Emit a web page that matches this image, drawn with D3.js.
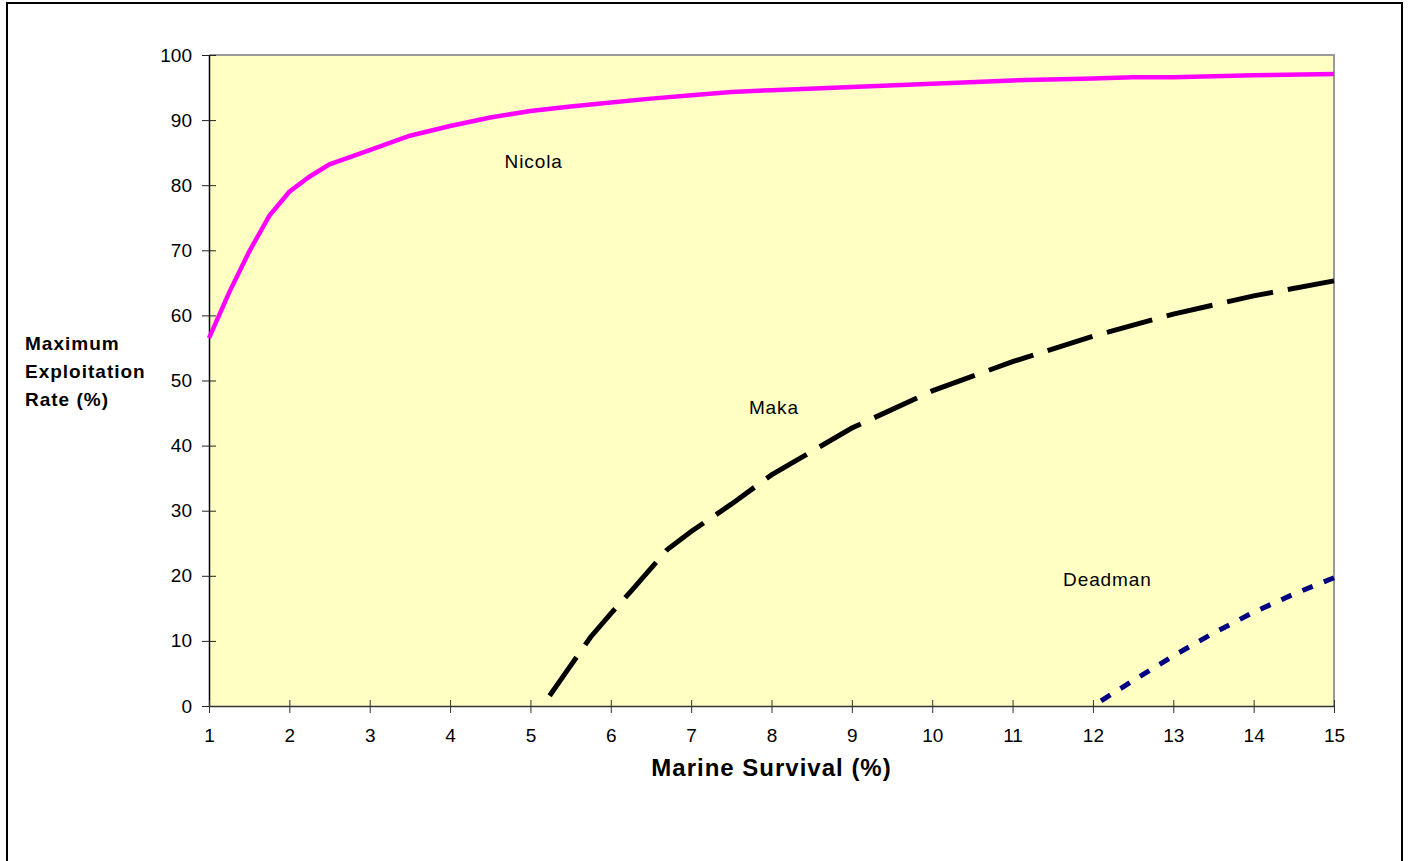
<!DOCTYPE html>
<html>
<head>
<meta charset="utf-8">
<script src="https://cdn.jsdelivr.net/npm/d3@7"></script>
<style>
  body { margin: 0; background: #fff; }
  text { font-family: Arial, "Liberation Sans", sans-serif; }
</style>
</head>
<body>
<div id="chart"></div>
<script>
// survival (%) vs max exploitation rate (%)
var nicolaX = [1, 1.25, 1.5, 1.75, 2, 2.25, 2.5, 3, 3.5, 4, 4.5, 5, 5.5, 6, 6.5, 7, 7.5, 8, 9, 10, 11, 12, 12.5, 13, 14, 15]
var nicolaY = [56.5, 63.5, 69.8, 75.3, 79, 81.3, 83.2, 85.4, 87.6, 89.1, 90.4, 91.4, 92.1, 92.7, 93.3, 93.8, 94.3, 94.6, 95.1, 95.6, 96.1, 96.4, 96.6, 96.6, 96.9, 97.1]

var makaX = [5.15, 5.5, 5.75, 6, 6.25, 6.7, 7, 7.5, 8, 9, 10, 11, 12, 13, 14, 15]
var makaY = [0, 6.2, 10.6, 14.2, 17.6, 24, 26.8, 31, 35.5, 42.7, 48.4, 52.9, 56.8, 60.2, 63, 65.3]

var deadmanX = [12, 12.5, 13, 13.5, 14, 14.5, 15]
var deadmanY = [0, 3.9, 7.7, 11.2, 14.4, 17.2, 19.7]

var xTicks = d3.range(1, 16)
var yTicks = d3.range(0, 101, 10)

var width = 1408
var height = 861

var plotLeft = 209
var plotRight = 1334
var plotTop = 55
var plotBottom = 706

var x = d3.scaleLinear().domain([1, 15]).range([plotLeft, plotRight])
var y = d3.scaleLinear().domain([0, 100]).range([plotBottom, plotTop])

var svg = d3.select("#chart")
  .append("svg")
  .attr("width", width)
  .attr("height", height)

// outer frame, bottom edge runs off the page
svg.append("rect")
  .attr("x", 7)
  .attr("y", 3)
  .attr("width", 1395)
  .attr("height", 900)
  .attr("fill", "none")
  .attr("stroke", "#000")
  .attr("stroke-width", 2)

svg.append("rect")
  .attr("x", plotLeft)
  .attr("y", plotTop)
  .attr("width", plotRight - plotLeft)
  .attr("height", plotBottom - plotTop)
  .attr("fill", "#FFFFC4")

// gray top and right edges
svg.append("path")
  .attr("d", "M" + plotLeft + "," + plotTop + "H" + plotRight + "V" + plotBottom)
  .attr("fill", "none")
  .attr("stroke", "#999")
  .attr("stroke-width", 2)

var yAxis = svg.append("g")
  .attr("transform", "translate(" + plotLeft + ",0)")
  .call(d3.axisLeft(y).tickValues(yTicks).tickSize(7).tickPadding(10).tickSizeOuter(0))
yAxis.selectAll(".tick line").attr("x1", 7).attr("stroke", "#222")
yAxis.select(".domain").attr("stroke", "#000").attr("stroke-width", 1.5)
yAxis.selectAll("text").attr("font-size", 19).attr("fill", "#000")

var xAxis = svg.append("g")
  .attr("transform", "translate(0," + plotBottom + ")")
  .call(d3.axisBottom(x).tickValues(xTicks).tickSize(7).tickPadding(16).tickSizeOuter(0))
xAxis.selectAll(".tick line").attr("y1", -6).attr("stroke", "#333")
xAxis.select(".domain").attr("stroke", "#333").attr("stroke-width", 1.5)
xAxis.selectAll("text").attr("font-size", 19).attr("fill", "#000")

function pairs(xs, ys) {
  return xs.map(function(v, i) { return [v, ys[i]] })
}

var line = d3.line()
  .x(function(d) { return x(d[0]) })
  .y(function(d) { return y(d[1]) })

svg.append("path")
  .datum(pairs(nicolaX, nicolaY))
  .attr("d", line)
  .attr("fill", "none")
  .attr("stroke", "#FF00FF")
  .attr("stroke-width", 4.5)

// dashed series, shift the pattern so a dash lands on the last point
function dashed(xs, ys, color, dash, gap) {
  var p = svg.append("path")
    .datum(pairs(xs, ys))
    .attr("d", line)
    .attr("fill", "none")
    .attr("stroke", color)
    .attr("stroke-width", 5)
    .attr("stroke-dasharray", dash + "," + gap)
  var len = p.node().getTotalLength()
  var period = dash + gap
  p.attr("stroke-dashoffset", dash - (len % period))
}

dashed(makaX, makaY, "#000", 47, 15)
dashed(deadmanX, deadmanY, "#000080", 11, 12)

// series labels
var labels = [
  {name: "Nicola", lx: 5.04, ly: 83.7},
  {name: "Maka", lx: 8.03, ly: 45.9},
  {name: "Deadman", lx: 12.18, ly: 19.4}
]
svg.selectAll(".series-label")
  .data(labels)
  .enter()
  .append("text")
  .attr("class", "series-label")
  .attr("x", function(d) { return x(d.lx) })
  .attr("y", function(d) { return y(d.ly) })
  .attr("dy", "0.35em")
  .attr("text-anchor", "middle")
  .attr("font-size", 19)
  .attr("letter-spacing", 0.9)
  .text(function(d) { return d.name })

svg.append("text")
  .attr("x", (plotLeft + plotRight) / 2)
  .attr("y", 776)
  .attr("text-anchor", "middle")
  .attr("font-size", 24)
  .attr("letter-spacing", 1)
  .attr("font-weight", "bold")
  .text("Marine Survival (%)")

var yTitle = ["Maximum", "Exploitation", "Rate (%)"]
svg.selectAll(".ytitle")
  .data(yTitle)
  .enter()
  .append("text")
  .attr("class", "ytitle")
  .attr("x", 25)
  .attr("y", function(d, i) { return 350 + i * 28 })
  .attr("font-size", 19)
  .attr("letter-spacing", 1)
  .attr("font-weight", "bold")
  .text(function(d) { return d })
</script>
</body>
</html>
